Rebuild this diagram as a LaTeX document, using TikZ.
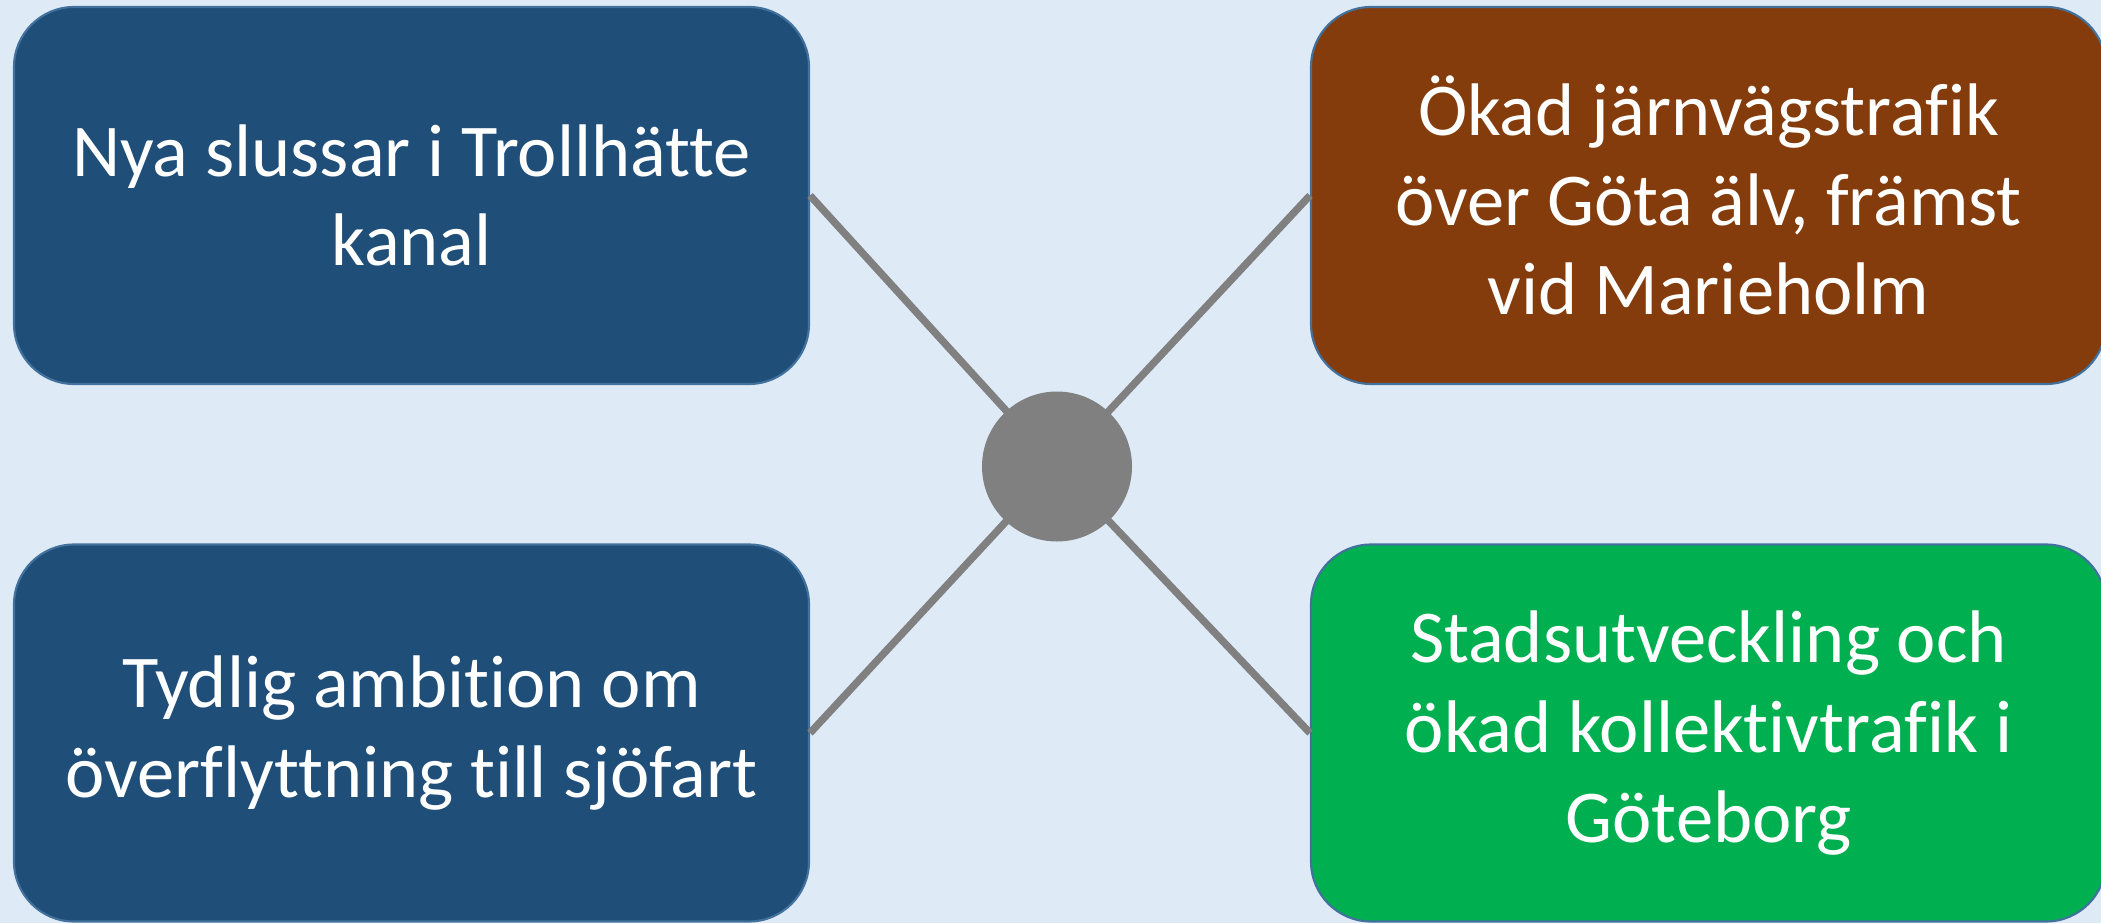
\documentclass[tikz,border=0pt]{standalone}
\usepackage{fontspec}
\setmainfont{Carlito}[Ligatures=NoCommon]
\definecolor{bgblue}{HTML}{DEEBF7}
\definecolor{boxblue}{HTML}{1F4E79}
\definecolor{boxbrown}{HTML}{843C0C}
\definecolor{boxgreen}{HTML}{00B050}
\definecolor{edgeblue}{HTML}{41719C}
\definecolor{hubgray}{HTML}{808080}
\tikzset{
  goalbox/.style={draw=edgeblue, line width=0.6pt, rounded corners=0.6cm,
    minimum width=7.95cm, minimum height=3.77cm, align=center,
    text=white, font=\fontsize{21.2}{25.5}\selectfont, inner sep=0pt},
  hub/.style={circle, fill=hubgray, minimum size=1.5cm, inner sep=0pt},
  spoke/.style={draw=hubgray, line width=2.1pt}
}
\begin{document}
\begin{tikzpicture}
% draw background
\fill[bgblue] (0,0) rectangle (21.01,9.23);
\useasboundingbox (0,0) rectangle (21.01,9.23);

% draw nodes to add goals
\node[goalbox, fill=boxblue] (slussar) at (4.115,7.275) {
  Nya slussar i Trollhätte \\
  kanal
};
\node[goalbox, fill=boxbrown] (jarnvag) at (17.085,7.275) {
  Ökad järnvägstrafik \\
  över Göta älv, främst \\
  vid Marieholm
};
\node[goalbox, fill=boxblue] (sjofart) at (4.115,1.90) {
  Tydlig ambition om \\
  överflyttning till sjöfart
};
\node[goalbox, fill=boxgreen] (stad) at (17.085,1.90) {
  Stadsutveckling och \\
  ökad kollektivtrafik i \\
  Göteborg
};

% draw spokes to the hub
\coordinate (mitt) at (10.57,4.565);
\foreach \n/\a in {slussar/east,sjofart/east,jarnvag/west,stad/west}
\draw[spoke] (\n.\a) -- (mitt);
\node[hub] (nav) at (mitt) {};
\end{tikzpicture}
\end{document}
